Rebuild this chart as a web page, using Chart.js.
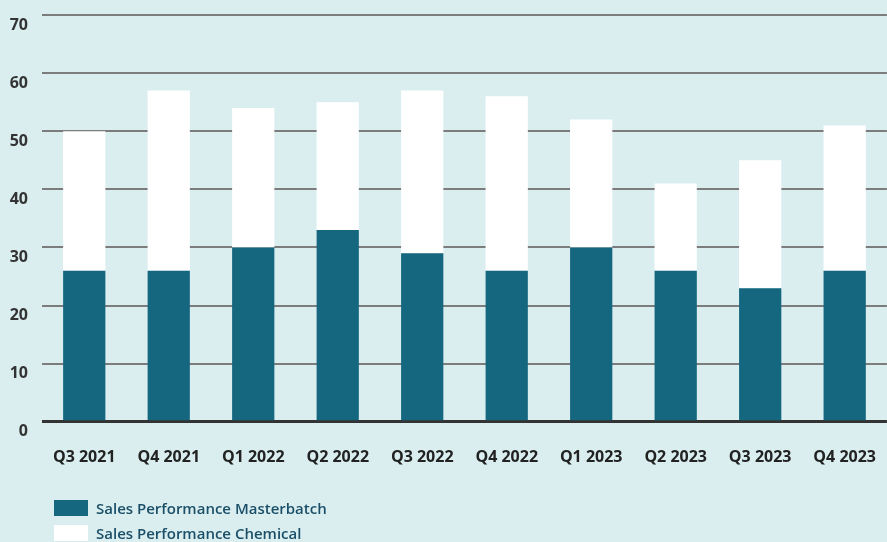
<!DOCTYPE html>
<html lang="en">
<head>
    <meta charset="UTF-8">
    <title>Sales Performance</title>
    <script src="https://cdn.jsdelivr.net/npm/chart.js"></script>
    <style>
        html, body { margin: 0; padding: 0; background: #daeef0; overflow: hidden; }
        #wrap { position: relative; width: 894px; height: 542px; }
        .legend { position: absolute; left: 54px; top: 495px; font-family: 'Open Sans', sans-serif; font-weight: 600; font-size: 15px; color: #1b4f68; }
        .legend div { display: flex; align-items: center; height: 25px; }
        .legend span { display: inline-block; width: 34px; height: 16px; margin-right: 8px; }
    </style>
</head>
<body>
    <div id="wrap">
        <canvas id="myChart"></canvas>
        <div class="legend">
            <div><span style="background:#156780"></span>Sales Performance Masterbatch</div>
            <div><span style="background:#ffffff"></span>Sales Performance Chemical</div>
        </div>
    </div>
    <script>
        const quarters = ['Q3 2021', 'Q4 2021', 'Q1 2022', 'Q2 2022', 'Q3 2022', 'Q4 2022', 'Q1 2023', 'Q2 2023', 'Q3 2023', 'Q4 2023'];
        const masterbatch = [26, 26, 30, 33, 29, 26, 30, 26, 23, 26];
        const chemical = [24, 31, 24, 22, 28, 30, 22, 15, 22, 25];
        const yTicks = [0, 10, 20, 30, 40, 50, 60, 70];

        const font = { family: "'Open Sans', sans-serif", size: 16, weight: 'bold' };

        document.addEventListener('DOMContentLoaded', () => {
            const ctx = document.getElementById('myChart').getContext('2d');
            new Chart(ctx, {
                type: 'bar',
                data: {
                    labels: quarters,
                    datasets: [
                        { label: 'Sales Performance Masterbatch', data: masterbatch, backgroundColor: '#156780' },
                        { label: 'Sales Performance Chemical', data: chemical, backgroundColor: '#ffffff' }
                    ]
                },
                options: {
                    responsive: true,
                    maintainAspectRatio: false,
                    animation: false,
                    layout: { padding: { top: 15, bottom: 57, left: 0, right: 0 } },
                    plugins: { legend: { display: false }, tooltip: { enabled: false } },
                    datasets: { bar: { categoryPercentage: 0.5, barPercentage: 1 } },
                    scales: {
                        x: {
                            stacked: true,
                            grid: { display: false },
                            border: { display: false },
                            ticks: { color: '#222', font: font, padding: 18, maxRotation: 0 }
                        },
                        y: {
                            stacked: true,
                            min: 0,
                            max: 70,
                            afterBuildTicks: axis => { axis.ticks = yTicks.map(v => ({ value: v })); },
                            afterFit: axis => { axis.width = 42; axis.paddingTop = 0; axis.paddingBottom = 0; },
                            border: { display: false },
                            grid: {
                                drawTicks: false,
                                color: c => c.tick && c.tick.value === 0 ? '#333333' : '#7c7c7c',
                                lineWidth: c => c.tick && c.tick.value === 0 ? 3 : 2
                            },
                            ticks: { color: '#333', font: font, padding: 14, labelOffset: 10 }
                        }
                    }
                }
            });
        });
    </script>
</body>
</html>
